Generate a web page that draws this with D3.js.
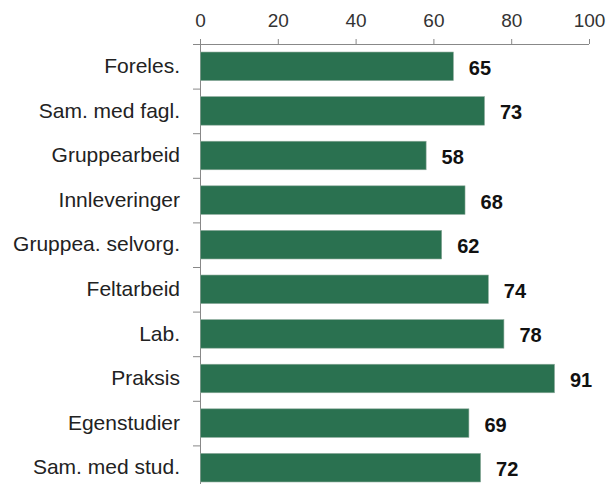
<!DOCTYPE html>
<html><head><meta charset="utf-8">
<script src="https://cdn.jsdelivr.net/npm/d3@7"></script>
<style>body{margin:0;background:#fff}svg{display:block}</style>
</head><body>
<svg id="c" width="607" height="484"></svg>
<script>
const categories = ["Foreles.","Sam. med fagl.","Gruppearbeid","Innleveringer","Gruppea. selvorg.","Feltarbeid","Lab.","Praksis","Egenstudier","Sam. med stud."];
const values = [65,73,58,68,62,74,78,91,69,72];
const xTicks = [0,20,40,60,80,100];

(function(){
const svg = d3.select("#c");
const mLeft = 200, mRight = 589, mTop = 44, band = 44.6;
const x = d3.scaleLinear().domain([0,100]).range([mLeft,mRight]);
const y = d3.scaleBand().domain(categories).range([mTop, mTop + band*categories.length]).paddingInner(0.36).paddingOuter(0.18);
const font = "'Liberation Sans', Arial, sans-serif";

// top axis
const xa = svg.append("g").attr("transform",`translate(0,${mTop})`)
  .call(d3.axisTop(x).tickValues(xTicks).tickSize(5).tickPadding(12));
xa.select(".domain").attr("stroke","#888").attr("d",`M${mLeft-7},0.5H${mRight}`);
xa.selectAll(".tick line").attr("stroke","#888");
xa.selectAll(".tick text").attr("font-family",font).attr("font-size",19).attr("fill","#333");

// left axis
const yb = d3.scaleBand().domain(categories).range([mTop, mTop + band*categories.length]);
const ya = svg.append("g").attr("transform",`translate(${mLeft},0)`)
  .call(d3.axisLeft(yb).tickSize(0).tickPadding(20));
ya.select(".domain").attr("stroke","#888");
ya.selectAll(".tick text").attr("font-family",font).attr("font-size",21).attr("fill","#222");
// boundary ticks
svg.append("g").selectAll("line").data(d3.range(categories.length+1)).join("line")
  .attr("x1",mLeft-7).attr("x2",mLeft).attr("y1",i=>mTop+i*band+0.5).attr("y2",i=>mTop+i*band+0.5)
  .attr("stroke","#888");

// bars
svg.append("g").selectAll("rect").data(categories).join("rect")
  .attr("x",x(0)+0.5).attr("y",d=>y(d))
  .attr("width",(d,i)=>x(values[i])-x(0)).attr("height",y.bandwidth())
  .attr("fill","#2a7150").attr("stroke","#8aa898").attr("stroke-width",0.6);

// value labels
svg.append("g").selectAll("text").data(categories).join("text")
  .attr("x",(d,i)=>x(values[i])+16).attr("y",d=>y(d)+y.bandwidth()/2+1.5)
  .attr("dy","0.35em").attr("font-family",font).attr("font-size",20).attr("font-weight","bold").attr("fill","#111")
  .text((d,i)=>values[i]);
})();
</script>
</body></html>
